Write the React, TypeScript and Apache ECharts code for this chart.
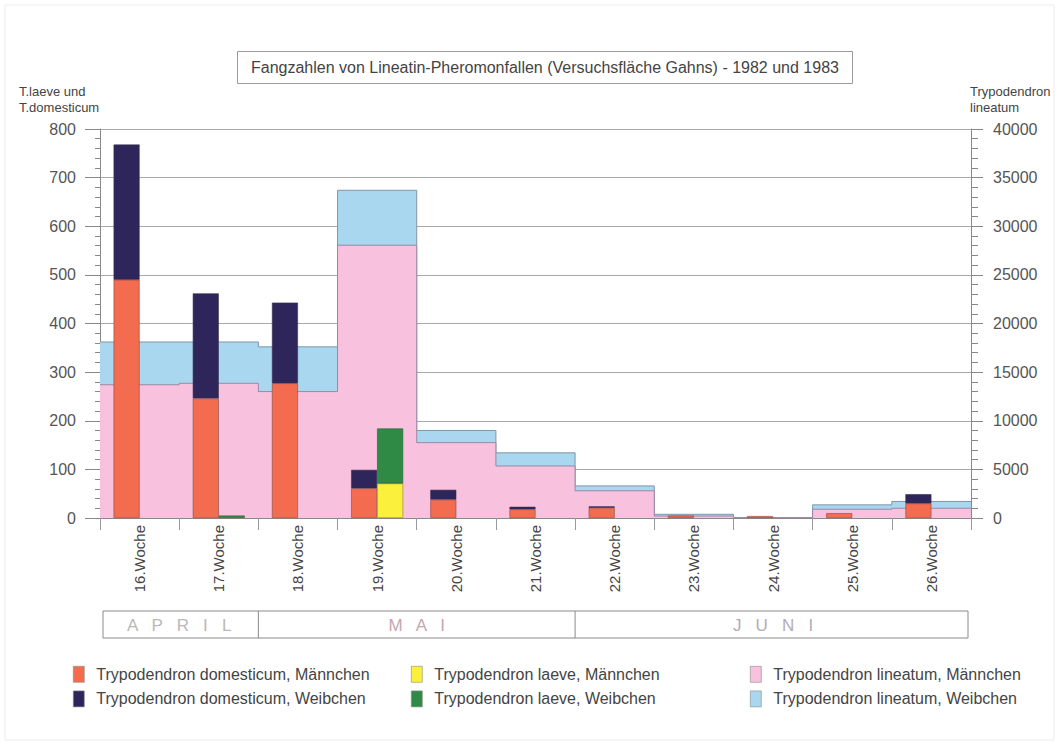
import React, { useEffect, useRef } from "react";
import * as echarts from "echarts";

// ---------- data ----------
const weeks = [
  "16.Woche", "17.Woche", "18.Woche", "19.Woche", "20.Woche", "21.Woche",
  "22.Woche", "23.Woche", "24.Woche", "25.Woche", "26.Woche",
];
// left axis (T.laeve und T.domesticum)
const domesticumM = [490, 246, 277, 61, 38, 18, 21, 5, 4, 10, 30];
const domesticumW = [278, 216, 166, 38, 20, 5, 3, 0, 0, 0, 19];
const laeveM = [0, 0, 0, 71, 0, 0, 0, 0, 0, 0, 0];
const laeveW = [0, 5, 0, 113, 0, 0, 0, 0, 0, 0, 0];
// right axis (Trypodendron lineatum)
const lineatumM = [13700, 13850, 13000, 28050, 7750, 5350, 2800, 200, 30, 900, 1000];
const lineatumW = [4400, 4250, 4600, 5650, 1250, 1350, 500, 180, 20, 450, 700];

const monthNames = ["A   P   R   I   L", "M   A   I", "J   U   N   I"];
const monthWeekCounts = [2, 4, 5];
const monthColors = ["#b9b9b9", "#c6a6b2", "#b4acb4"];

const TITLE =
  "Fangzahlen von Lineatin-Pheromonfallen (Versuchsfläche Gahns) - 1982 und 1983";
const NAMES = {
  domM: "Trypodendron domesticum, Männchen",
  domW: "Trypodendron domesticum, Weibchen",
  laeM: "Trypodendron laeve, Männchen",
  laeW: "Trypodendron laeve, Weibchen",
  linM: "Trypodendron lineatum, Männchen",
  linW: "Trypodendron lineatum, Weibchen",
};

const COLORS = {
  red: "#f36c50",
  navy: "#2e255a",
  yellow: "#fbf03c",
  green: "#2e8a45",
  pink: "#f8c1de",
  blue: "#a9d7ef",
};

const FONT = "'Liberation Sans', Arial, Helvetica, sans-serif";

const W = 1059;
const H = 745;
const GL = 100;
const GR = 971;
const GT = 129;
const GB = 518;

// step data for the full-width lineatum layer (built from the arrays)
const stepData = (arr: number[]) => [
  ...arr.map((v, i) => [i, v]),
  [arr.length, arr[arr.length - 1]],
];
// Weibchen are stacked on top of Männchen: the upper outline is the total
const lineatumTotal = lineatumM.map((v, i) => v + lineatumW[i]);
// zero catches are drawn as empty (no hairline at the baseline)
const barData = (arr: number[]) => arr.map((v) => (v === 0 ? "-" : v));

export default function App() {
  const ref = useRef<HTMLDivElement>(null);

  useEffect(() => {
    if (!ref.current) return;
    const chart = echarts.init(ref.current, null, { renderer: "svg" });

    const catW = (GR - GL) / weeks.length;

    // month band graphics
    const monthGraphics: any[] = [];
    const bandTop = 611;
    const bandH = 27;
    monthGraphics.push({
      type: "rect",
      shape: { x: GL + 3, y: bandTop, width: GR - GL - 6, height: bandH },
      style: { fill: "none", stroke: "#8a8a8a", lineWidth: 1 },
      silent: true,
    });
    let start = 0;
    monthNames.forEach((m, i) => {
      const x0 = GL + start * catW;
      const x1 = GL + (start + monthWeekCounts[i]) * catW;
      if (i > 0) {
        monthGraphics.push({
          type: "line",
          shape: { x1: x0, y1: bandTop, x2: x0, y2: bandTop + bandH },
          style: { stroke: "#8a8a8a", lineWidth: 1 },
          silent: true,
        });
      }
      monthGraphics.push({
        type: "text",
        x: (x0 + x1) / 2,
        y: bandTop + bandH / 2 + 1,
        style: {
          text: m,
          fill: monthColors[i],
          font: `17px ${FONT}`,
          align: "center",
          verticalAlign: "middle",
        },
        silent: true,
      });
      start += monthWeekCounts[i];
    });

    const legendBase = {
      orient: "vertical",
      icon: "rect",
      itemWidth: 11,
      itemHeight: 16,
      itemGap: 8,
      top: 661,
      selectedMode: false,
      itemStyle: { borderColor: "#8a8a8a", borderWidth: 0.6 },
      textStyle: {
        fontFamily: FONT,
        fontSize: 16,
        color: "#444",
        padding: [0, 0, 0, 7],
      },
    };

    const option: any = {
      animation: false,
      backgroundColor: "#ffffff",
      title: {
        text: TITLE,
        left: 237,
        top: 51,
        padding: [8, 14, 8, 14],
        borderColor: "#9a9a9a",
        borderWidth: 1,
        textStyle: {
          fontFamily: FONT,
          fontSize: 16,
          fontWeight: "normal",
          color: "#444",
          lineHeight: 17,
        },
      },
      grid: { left: GL, right: W - GR, top: GT, bottom: H - GB },
      legend: [
        { ...legendBase, left: 68, data: [NAMES.domM, NAMES.domW] },
        { ...legendBase, left: 406, data: [NAMES.laeM, NAMES.laeW] },
        { ...legendBase, left: 745, data: [NAMES.linM, NAMES.linW] },
      ],
      xAxis: [
        {
          type: "category",
          data: weeks,
          axisLine: { show: true, lineStyle: { color: "#888" } },
          axisTick: { show: true, length: 12, interval: 0, lineStyle: { color: "#999" } },
          axisLabel: {
            rotate: 90,
            interval: 0,
            margin: 7,
            fontFamily: FONT,
            fontSize: 15,
            color: "#444",
          },
          splitLine: { show: false },
        },
        { type: "value", min: 0, max: weeks.length, show: false },
      ],
      yAxis: [
        {
          type: "value",
          position: "left",
          min: 0,
          max: 800,
          interval: 100,
          axisLine: { show: true, lineStyle: { color: "#888" } },
          axisTick: { show: true, length: 15, lineStyle: { color: "#888" } },
          minorTick: { show: true, splitNumber: 5, length: 5, lineStyle: { color: "#888" } },
          axisLabel: { fontFamily: FONT, fontSize: 16, color: "#555", margin: 24 },
          splitLine: { show: true, lineStyle: { color: "#a8a8a8", width: 1 } },
        },
        {
          type: "value",
          position: "right",
          min: 0,
          max: 40000,
          interval: 5000,
          axisLine: { show: true, lineStyle: { color: "#888" } },
          axisTick: { show: true, length: 12, lineStyle: { color: "#888" } },
          minorTick: { show: true, splitNumber: 5, length: 7, lineStyle: { color: "#888" } },
          axisLabel: {
            fontFamily: FONT,
            fontSize: 16,
            color: "#555",
            margin: 22,
            formatter: (v: number) => String(v),
          },
          splitLine: { show: false },
        },
      ],
      graphic: [
        {
          type: "rect",
          shape: { x: 5, y: 5, width: W - 10, height: H - 10 },
          style: { fill: "none", stroke: "#ececec", lineWidth: 1 },
          silent: true,
          z: -10,
        },
        {
          type: "text",
          x: 19,
          y: 83,
          style: {
            text: "T.laeve und\nT.domesticum",
            font: `13px ${FONT}`,
            fill: "#444",
            lineHeight: 16,
          },
          silent: true,
        },
        {
          type: "text",
          x: 970,
          y: 83,
          style: {
            text: "Trypodendron\nlineatum",
            font: `13px ${FONT}`,
            fill: "#444",
            lineHeight: 16,
          },
          silent: true,
        },
        ...monthGraphics,
      ],
      series: [
        {
          name: NAMES.linW,
          type: "line",
          xAxisIndex: 1,
          yAxisIndex: 1,
          step: "end",
          symbol: "none",
          data: stepData(lineatumTotal),
          lineStyle: { color: "#7f95a8", width: 1 },
          itemStyle: { color: COLORS.blue },
          areaStyle: { color: COLORS.blue, opacity: 1 },
          z: 1,
        },
        {
          name: NAMES.linM,
          type: "line",
          xAxisIndex: 1,
          yAxisIndex: 1,
          step: "end",
          symbol: "none",
          data: stepData(lineatumM),
          lineStyle: { color: "#9a88a6", width: 1 },
          itemStyle: { color: COLORS.pink },
          areaStyle: { color: COLORS.pink, opacity: 1 },
          z: 2,
        },
        {
          name: NAMES.domM,
          type: "bar",
          stack: "dom",
          data: barData(domesticumM),
          barWidth: 26,
          barGap: "0%",
          itemStyle: { color: COLORS.red, borderColor: "#8a4a40", borderWidth: 0.6 },
          z: 3,
        },
        {
          name: NAMES.domW,
          type: "bar",
          stack: "dom",
          data: barData(domesticumW),
          barWidth: 26,
          barGap: "0%",
          itemStyle: { color: COLORS.navy, borderColor: "#3a3050", borderWidth: 0.6 },
          z: 3,
        },
        {
          name: NAMES.laeM,
          type: "bar",
          stack: "lae",
          data: barData(laeveM),
          barWidth: 26,
          barGap: "0%",
          itemStyle: { color: COLORS.yellow, borderColor: "#8a8440", borderWidth: 0.6 },
          z: 3,
        },
        {
          name: NAMES.laeW,
          type: "bar",
          stack: "lae",
          data: barData(laeveW),
          barWidth: 26,
          barGap: "0%",
          itemStyle: { color: COLORS.green, borderColor: "#2a5a38", borderWidth: 0.6 },
          z: 3,
        },
      ],
    };

    chart.setOption(option);
    return () => chart.dispose();
  }, []);

  return (
    <div
      ref={ref}
      style={{ position: "fixed", left: 0, top: 0, width: W, height: H, background: "#fff" }}
    />
  );
}
